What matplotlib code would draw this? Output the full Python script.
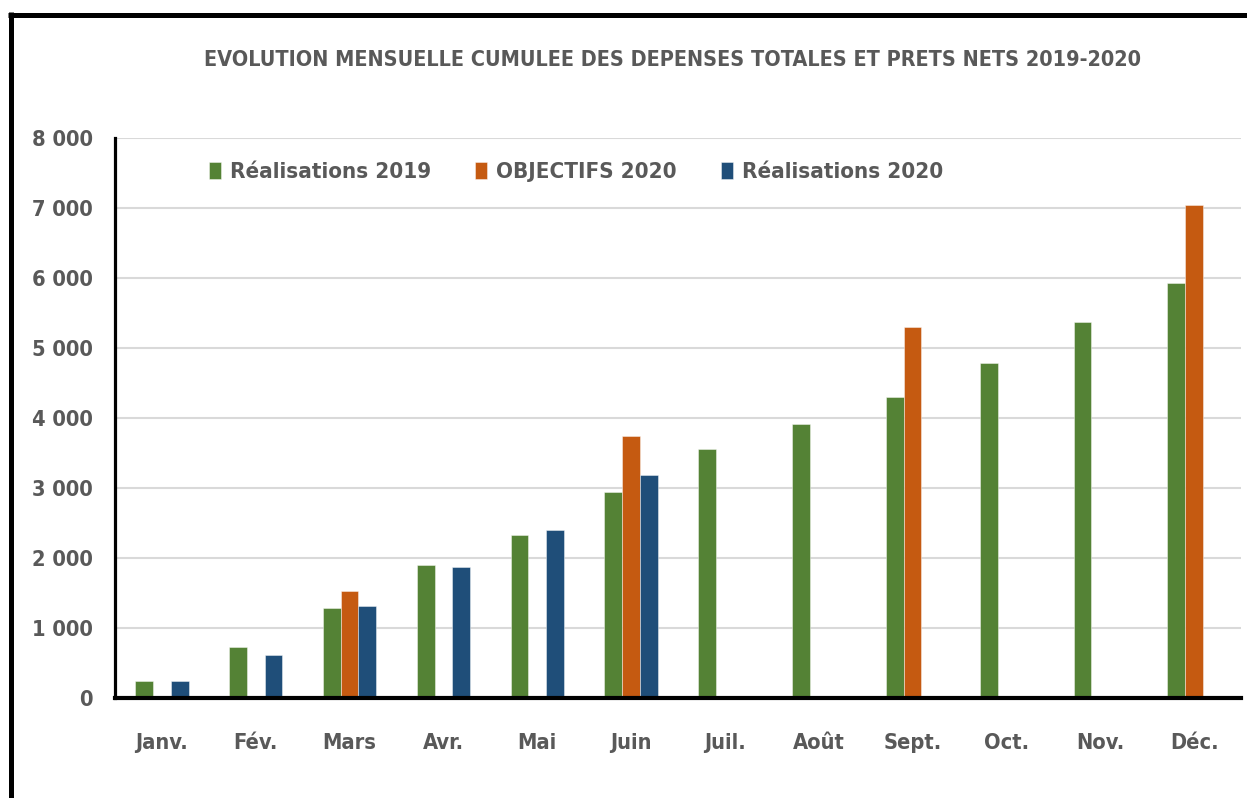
import matplotlib
matplotlib.use("Agg")
import matplotlib.pyplot as plt
import matplotlib.font_manager as fm
from matplotlib.lines import Line2D
import numpy as np

months = ["Janv.", "Fév.", "Mars", "Avr.", "Mai", "Juin", "Juil.", "Août",
          "Sept.", "Oct.", "Nov.", "Déc."]
real_2019 = [240, 730, 1280, 1905, 2330, 2940, 3560, 3920, 4300, 4790, 5370, 5930]
obj_2020 = [0, 0, 1530, 0, 0, 3740, 0, 0, 5300, 0, 0, 7040]
real_2020 = [240, 620, 1320, 1870, 2400, 3180, 0, 0, 0, 0, 0, 0]
series_names = ["Réalisations 2019", "OBJECTIFS 2020", "Réalisations 2020"]
yticks = [0, 1000, 2000, 3000, 4000, 5000, 6000, 7000, 8000]
ytick_labels = ["0", "1 000", "2 000", "3 000", "4 000", "5 000", "6 000", "7 000", "8 000"]
title = "EVOLUTION MENSUELLE CUMULEE DES DEPENSES TOTALES ET PRETS NETS 2019-2020"

colors = ["#548235", "#C55A11", "#1F4E79"]
grey = "#595959"


def pick_font():
    entries = fm.fontManager.ttflist
    def ok(e):
        f = e.fname.lower()
        return ("bold" in f) and ("italic" not in f) and ("oblique" not in f) \
            and ("semibold" not in f) and ("extrabold" not in f) and ("light" not in f)
    for key in ["notosans-extracondensedbold.", "notosans-condensedbold.",
                "liberationsansnarrow-bold", "dejavusanscondensed-bold",
                "opensans-condbold", "opensanscondensed-bold",
                "roboto_condensed-bold", "robotocondensed-bold"]:
        for e in entries:
            if key in e.fname.lower().replace(" ", "") and ok(e):
                return e.fname
    for e in entries:
        f = e.fname.lower()
        if ("narrow" in f or "condensed" in f or "cond" in f) and ok(e) \
                and "mono" not in f and "serif" not in f.replace("sans", ""):
            return e.fname
    for key in ["lato-bold", "roboto-bold"]:
        for e in entries:
            if key in e.fname.lower() and ok(e):
                return e.fname
    return None


fpath = pick_font()
def fprop(size):
    if fpath:
        return fm.FontProperties(fname=fpath, size=size)
    return fm.FontProperties(family="DejaVu Sans", weight="bold", size=size)


W, H = 1247, 798
fig = plt.figure(figsize=(W / 100, H / 100), dpi=100)
ax = fig.add_axes([115 / W, 1 - 698 / H, (1241 - 115) / W, (698 - 138) / H])
fig.canvas.draw()
rend = fig.canvas.get_renderer()


def fit_size(s, target_px, base=20):
    t = fig.text(0, 0, s, fontproperties=fprop(base))
    w = t.get_window_extent(rend).width
    t.remove()
    return base * target_px / w


tick_fs = 1.08 * (fit_size("8 000", 52) + fit_size("Janv.", 53)) / 2
leg_fs = 1.05 * fit_size("Réalisations 2019", 191)
title_fs = 1.04 * fit_size(title, 900)

x = np.arange(len(months))
bw = 0.19
for i, (vals, c, name) in enumerate(zip([real_2019, obj_2020, real_2020], colors, series_names)):
    ax.bar(x + (i - 1) * bw, vals, width=bw, color=c, edgecolor=(1, 1, 1, 0.5),
           linewidth=0.6, label=name, zorder=3)

ax.set_xlim(-0.5, len(months) - 0.5)
ax.set_ylim(0, 8000)
ax.set_yticks(yticks)
ax.set_yticklabels(ytick_labels, fontproperties=fprop(tick_fs), color=grey)
ax.set_xticks(x)
ax.set_xticklabels(months, fontproperties=fprop(tick_fs), color=grey)
ax.tick_params(axis='both', length=0)
ax.tick_params(axis='y', pad=16)
ax.tick_params(axis='x', pad=25)

ax.yaxis.grid(True, color="#D9D9D9", linewidth=1.5, zorder=0)
ax.set_axisbelow(True)
for s in ["top", "right"]:
    ax.spines[s].set_visible(False)
ax.spines["left"].set_linewidth(2.3)
ax.spines["left"].set_color("black")
ax.spines["bottom"].set_linewidth(3)
ax.spines["bottom"].set_color("black")
ax.spines["left"].set_zorder(4)
ax.spines["bottom"].set_zorder(4)

fs_px = leg_fs * 100 / 72
leg = ax.legend(loc="center left", bbox_to_anchor=(209 / W, 1 - 172 / H),
                bbox_transform=fig.transFigure, ncol=3, frameon=False,
                prop=fprop(leg_fs), handlelength=12 / fs_px,
                handleheight=17 / fs_px, handletextpad=9 / fs_px,
                columnspacing=44 / fs_px, borderpad=0, borderaxespad=0)
for t in leg.get_texts():
    t.set_color(grey)

fig.text(672 / W, 1 - 60 / H, title, ha="center", va="center",
         fontproperties=fprop(title_fs), color=grey)

# outer frame (top and left edges)
fig.add_artist(Line2D([8 / W, 1], [1 - 14.5 / H, 1 - 14.5 / H], transform=fig.transFigure,
                      color="black", linewidth=3.6, solid_capstyle="butt"))
fig.add_artist(Line2D([10.5 / W, 10.5 / W], [0, 1 - 12 / H], transform=fig.transFigure,
                      color="black", linewidth=3.6, solid_capstyle="butt"))

fig.savefig("out.png", dpi=100, facecolor="white")
